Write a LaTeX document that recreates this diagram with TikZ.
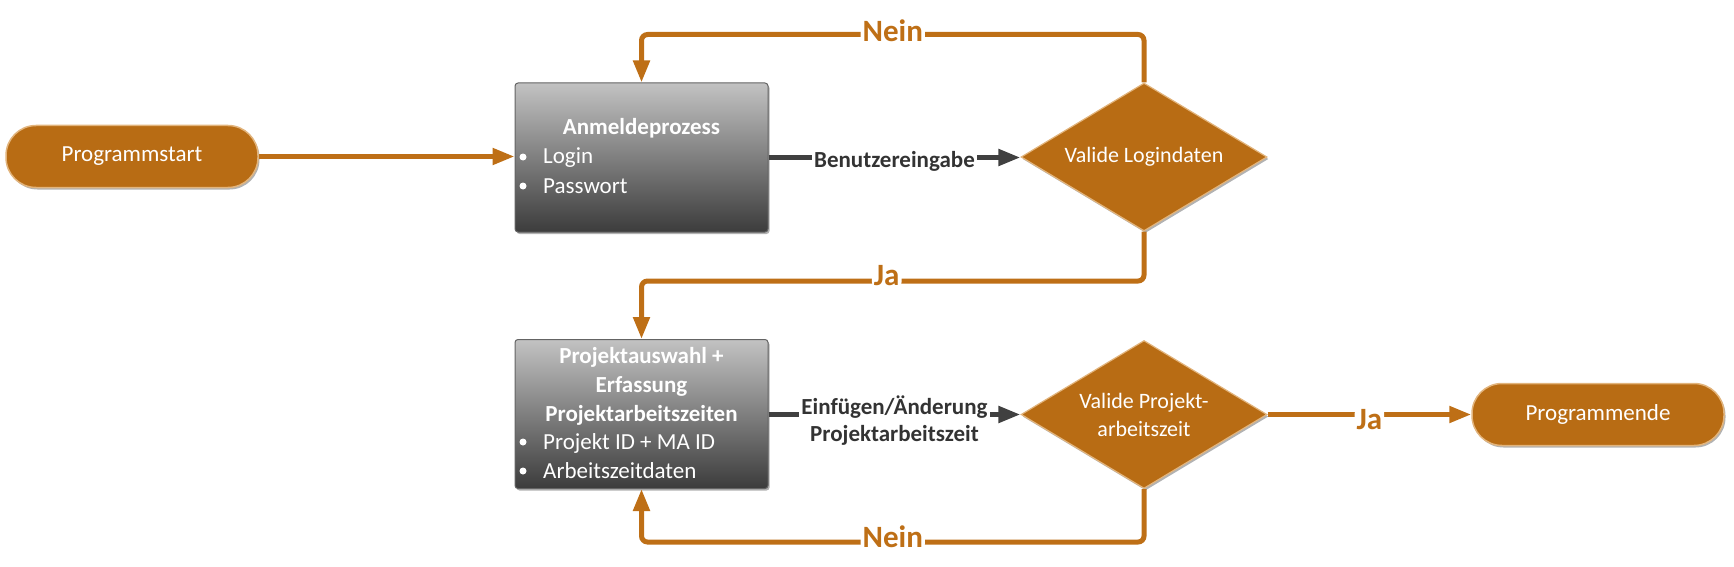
\documentclass[tikz,border=0pt]{standalone}
\usepackage{fontspec}
\setmainfont{Carlito}
\usetikzlibrary{arrows.meta,shapes.geometric,shadows,calc}
\definecolor{orng}{RGB}{184,108,20}
\definecolor{orngline}{RGB}{190,111,22}
\definecolor{orngedge}{RGB}{226,180,124}
\definecolor{boxtop}{RGB}{194,194,194}
\definecolor{boxbot}{RGB}{60,60,60}
\definecolor{boxedge}{RGB}{100,100,100}
\definecolor{darkln}{RGB}{64,64,64}
\definecolor{lbltext}{RGB}{51,51,51}
\begin{document}
\begin{tikzpicture}[x=1pt,y=1pt,
  font=\fontsize{23}{28}\selectfont,
  shadowed/.style={drop shadow={shadow xshift=1.5pt,shadow yshift=-2pt,opacity=0.3,fill=black}},
  terminal/.style={shadowed,draw=orngedge,line width=1.5pt,fill=orng,rounded corners=30pt,
    minimum width=252pt,minimum height=62pt,text=white,inner sep=0pt},
  decision/.style={shadowed,diamond,aspect=1.66,draw=orngedge,line width=1.2pt,fill=orng,
    minimum width=246pt,minimum height=148pt,inner sep=0pt,text=white,align=center,
    font=\fontsize{22}{28}\selectfont},
  procbox/.style={shadowed,draw=boxedge,line width=1pt,rounded corners=3pt,top color=boxtop,
    bottom color=boxbot,minimum width=253pt,minimum height=149pt,inner sep=0pt},
  titletext/.style={text=white,font=\fontsize{23}{28}\selectfont\bfseries,inner sep=0pt,anchor=base},
  itemtext/.style={text=white,inner sep=0pt,anchor=base west},
  dot/.style={circle,fill=white,inner sep=0pt,minimum size=7pt},
  olink/.style={draw=orngline,line width=5pt,-{Triangle[length=22pt,width=16pt]},rounded corners=6pt},
  glink/.style={draw=darkln,line width=5pt,-{Triangle[length=22pt,width=16pt]}},
  olabel/.style={fill=white,text=orngline,font=\fontsize{31}{36}\selectfont\bfseries,inner sep=2pt},
  glabel/.style={fill=white,text=lbltext,font=\fontsize{23}{27}\selectfont\bfseries,inner sep=2pt,align=center}
]
\useasboundingbox (0,0) rectangle (1734,-567);

% nodes
\node[terminal] (start) at (132,-156.5) {Programmstart};
\node[procbox] (box1) at (641.5,-157.5) {};
\node[decision] (d1) at (1144,-157) {Valide Logindaten};
\node[procbox] (box2) at (641.5,-414) {};
\node[decision] (d2) at (1144,-414.5) {Valide Projekt-\\arbeitszeit};
\node[terminal] (end) at (1598,-414.5) {Programmende};

% box 1 text
\node[titletext] (t1) at (641.5,-135) {Anmeldeprozess};
\node[dot] (p11) at (523,-157) {};
\node[itemtext] (i11) at (543,-164) {Login};
\node[dot] (p12) at (523,-186) {};
\node[itemtext] (i12) at (543,-193) {Passwort};

% box 2 text
\node[titletext] (t21) at (641.5,-363) {Projektauswahl +};
\node[titletext] (t22) at (641.5,-392) {Erfassung};
\node[titletext] (t23) at (641.5,-421) {Projektarbeitszeiten};
\node[dot] (p21) at (523,-442) {};
\node[itemtext] (i21) at (543,-449) {Projekt ID + MA ID};
\node[dot] (p22) at (523,-471) {};
\node[itemtext] (i22) at (543,-478) {Arbeitszeitdaten};

% connectors
\draw[olink] (start.east) -- (start.east -| box1.west);
\draw[glink] (box1.east) -- node[glabel,yshift=-4pt] {Benutzereingabe} (box1.east -| d1.west);
\draw[olink] (d1.north) |- ($(box1.north)+(0,48)$) node[olabel,pos=0.75,yshift=4pt] {Nein} -- (box1.north);
\draw[olink] (d1.south) |- ($(box2.north)+(0,58)$) node[olabel,pos=0.75,xshift=-6pt,yshift=5pt] {Ja} -- (box2.north);
\draw[glink] (box2.east |- d2.west) -- node[glabel,yshift=-6pt] {Einfügen/Änderung\\Projektarbeitszeit} (d2.west);
\draw[olink] (d2.east) -- node[olabel,yshift=-5pt] {Ja} (end.west);
\draw[olink] (d2.south) |- ($(box2.south)+(0,-53)$) node[olabel,pos=0.75,yshift=5pt] {Nein} -- (box2.south);
\end{tikzpicture}
\end{document}
